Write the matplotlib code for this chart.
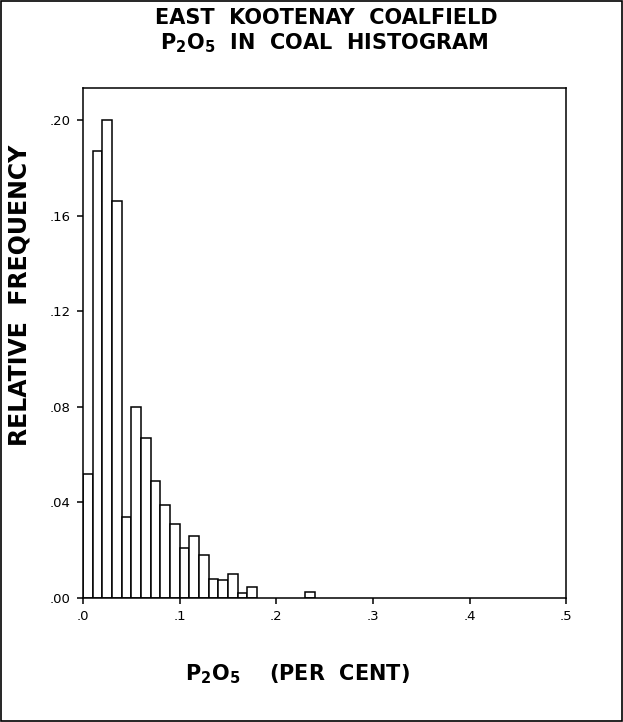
import matplotlib
matplotlib.use("Agg")
import matplotlib.pyplot as plt
from matplotlib.patches import Rectangle

# Histograma P2O5 - East Kootenay (frecuencia relativa por clase de 0.01 %)
bin_left = [0.00, 0.01, 0.02, 0.03, 0.04, 0.05, 0.06, 0.07, 0.08, 0.09,
            0.10, 0.11, 0.12, 0.13, 0.14, 0.15, 0.16, 0.17, 0.23]
rel_freq = [0.052, 0.187, 0.200, 0.166, 0.034, 0.080, 0.067, 0.049, 0.039, 0.031,
            0.021, 0.026, 0.018, 0.008, 0.0075, 0.010, 0.002, 0.0047, 0.0024]
bin_width = 0.01

x_ticks = [0.0, 0.1, 0.2, 0.3, 0.4, 0.5]
x_tick_labels = ['.0', '.1', '.2', '.3', '.4', '.5']
y_ticks = [0.00, 0.04, 0.08, 0.12, 0.16, 0.20]
y_tick_labels = ['.00', '.04', '.08', '.12', '.16', '.20']

plt.rcParams['font.family'] = ['DejaVu Sans']
plt.rcParams['mathtext.default'] = 'bf'

fig = plt.figure(figsize=(6.23, 7.22), dpi=100)
ax = fig.add_axes([0.133, 0.172, 0.776, 0.706])

ax.bar(bin_left, rel_freq, width=bin_width, align='edge',
       facecolor='white', edgecolor='black', linewidth=1.1)

ax.set_xlim(0, 0.5)
ax.set_ylim(0, 0.2135)
ax.set_xticks(x_ticks)
ax.set_xticklabels(x_tick_labels, fontsize=9.5)
ax.set_yticks(y_ticks)
ax.set_yticklabels(y_tick_labels, fontsize=9.5)
ax.tick_params(direction='out', length=4, width=1.1, pad=5)
for s in ax.spines.values():
    s.set_linewidth(1.1)

# Títulos y etiquetas
fig.text(0.523, 1 - 18 / 722, 'EAST  KOOTENAY  COALFIELD', ha='center', va='center',
         fontsize=15, fontweight='bold')
fig.text(0.52, 1 - 43 / 722, r'P$_2$O$_5$  IN  COAL  HISTOGRAM', ha='center', va='center',
         fontsize=15, fontweight='bold')
fig.text(20 / 623, 1 - 295 / 722, 'RELATIVE  FREQUENCY', rotation=90, ha='center', va='center',
         fontsize=17, fontweight='bold')
fig.text(297 / 623, 1 - 674 / 722, r'P$_2$O$_5$    (PER  CENT)', ha='center', va='center',
         fontsize=15, fontweight='bold')

# Marco exterior
fig.patches.append(Rectangle((0.002, 0.002), 0.996, 0.996, transform=fig.transFigure,
                             fill=False, edgecolor='black', linewidth=1.2))

fig.savefig('out.png', dpi=100)
